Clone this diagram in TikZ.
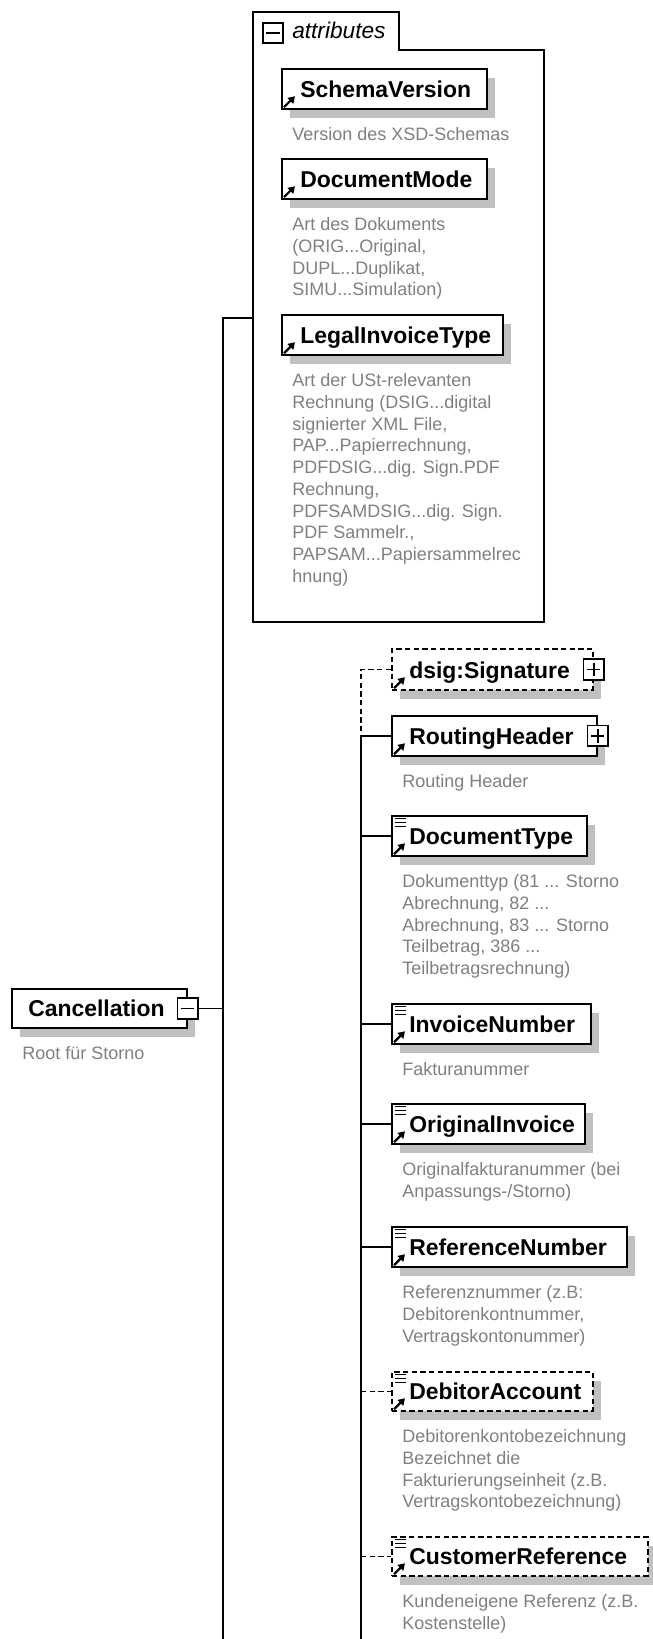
\documentclass[tikz,border=0pt]{standalone}
\usepackage{fontspec}
\setmainfont{Liberation Sans}
\usetikzlibrary{arrows.meta,shadows}
\definecolor{descgray}{RGB}{128,128,128}
\definecolor{shadowc}{RGB}{192,192,192}
\newcommand{\ebx}[6]{% name, style, L, T, R, B
  \node[#2, minimum width={(#5-#3)*0.75pt}, minimum height={(#6-#4)*0.75pt}] (#1) at (#3,#4) {};}
\newcommand{\refarrow}[1]{%
  \draw[line width=1.6pt,-{Triangle[length=5pt,width=6pt]}] ([shift={(3,-2.5)}]#1.south west) -- ([shift={(14,-13.5)}]#1.south west);}
\newcommand{\simpleicon}[1]{%
  \foreach \k in {3.5,7.5,11.5}{\draw[line width=0.9pt] ([shift={(4,\k)}]#1.north west) -- ([shift={(15,\k)}]#1.north west);}}
\newcommand{\plusbox}[1]{%
  \node[pmbox] (#1p) at (#1.east) {};
  \draw[line width=1.2pt] ([xshift=-5pt]#1p.center) -- ([xshift=5pt]#1p.center);
  \draw[line width=1.2pt] ([yshift=-5pt]#1p.center) -- ([yshift=5pt]#1p.center);}
\newcommand{\dlines}[1]{\begin{tabular}[t]{@{}l@{}}#1\end{tabular}}
\begin{document}
\begin{tikzpicture}[x=0.75pt,y=-0.75pt,
  ebox/.style={draw=black, fill=white, line width=1.3pt, rectangle, inner sep=0pt, anchor=north west,
    drop shadow={shadow xshift=6pt,shadow yshift=-6.75pt,fill=shadowc,opacity=1}},
  optbox/.style={ebox, dash pattern=on 4pt off 2.5pt},
  ename/.style={font=\fontsize{17.2}{20}\selectfont\bfseries, anchor=base west, inner sep=0pt},
  edesc/.style={font=\fontsize{13.5}{16.3}\selectfont, text=descgray, anchor=base west, inner sep=0pt},
  conn/.style={draw, line width=1.3pt},
  optconn/.style={conn, dash pattern=on 4pt off 2.5pt},
  pmbox/.style={draw, fill=white, line width=1.3pt, minimum size=15.5pt, inner sep=0pt, rectangle},
]
\useasboundingbox[fill=white] (0,0) rectangle (653,1639);

% ---------- attributes frame ----------
\draw[line width=1.3pt] (253,622) -- (253,12) -- (399,12) -- (399,50) -- (544,50) -- (544,622) -- cycle;
\node[pmbox] (attrm) at (273,33) {};
\draw[line width=1.2pt] ([xshift=-5pt]attrm.center) -- ([xshift=5pt]attrm.center);
\node[font=\fontsize{17}{20}\selectfont\itshape, anchor=base west, inner sep=0pt] (attrt) at (292,38.5) {attributes};

\ebx{sv}{ebox}{281}{68}{486}{108}
\node[ename] (svt) at ([shift={(19,-12)}]sv.south west) {SchemaVersion};
\refarrow{sv}
\node[edesc] (svd) at ([shift={(11,31)}]sv.south west) {\dlines{Version des XSD-Schemas}};

\ebx{dm}{ebox}{281}{158}{486}{198}
\node[ename] (dmt) at ([shift={(19,-12)}]dm.south west) {DocumentMode};
\refarrow{dm}
\node[edesc] (dmd) at ([shift={(11,31)}]dm.south west) {\dlines{Art des Dokuments\\(ORIG...Original,\\DUPL...Duplikat,\\SIMU...Simulation)}};

\ebx{lit}{ebox}{281}{314}{502}{354}
\node[ename] (litt) at ([shift={(19,-12)}]lit.south west) {LegalInvoiceType};
\refarrow{lit}
\node[edesc] (litd) at ([shift={(11,31)}]lit.south west) {\dlines{Art der USt-relevanten\\Rechnung (DSIG...digital\\signierter XML File,\\PAP...Papierrechnung,\\PDFDSIG...dig. Sign.PDF\\Rechnung,\\PDFSAMDSIG...dig. Sign.\\PDF Sammelr.,\\PAPSAM...Papiersammelrec\\hnung)}};

% ---------- root ----------
\ebx{canc}{ebox}{11}{988}{186}{1027}
\node[ename] (canct) at ([shift={(17,-12)}]canc.south west) {Cancellation};
\node[pmbox] (cancm) at (canc.east) {};
\draw[line width=1.2pt] ([xshift=-5pt]cancm.center) -- ([xshift=5pt]cancm.center);
\node[edesc] (cancd) at ([shift={(11,31)}]canc.south west) {\dlines{Root für Storno}};

% ---------- trunk ----------
\coordinate (tTop) at (223,318);
\coordinate (tBot) at (223,1639);
\coordinate (frameL) at (253,318);
\draw[conn] (frameL) -- (tTop) -- (tBot);
\draw[conn] (cancm.east) -- (cancm.east -| tTop);

% ---------- elements ----------
\ebx{dsig}{optbox}{391}{648}{592}{689}
\node[ename] (dsigt) at ([shift={(18,-12)}]dsig.south west) {dsig:Signature};
\refarrow{dsig}
\plusbox{dsig}

\ebx{rh}{ebox}{391}{715}{596}{755}
\node[ename] (rht) at ([shift={(18,-12)}]rh.south west) {RoutingHeader};
\refarrow{rh}
\plusbox{rh}
\node[edesc] (rhd) at ([shift={(11,31)}]rh.south west) {\dlines{Routing Header}};

\ebx{dt}{ebox}{391}{815}{586}{855}
\node[ename] (dtt) at ([shift={(18,-12)}]dt.south west) {DocumentType};
\refarrow{dt}\simpleicon{dt}
\node[edesc] (dtd) at ([shift={(11,31)}]dt.south west) {\dlines{Dokumenttyp (81 ... Storno\\Abrechnung, 82 ...\\Abrechnung, 83 ... Storno\\Teilbetrag, 386 ...\\Teilbetragsrechnung)}};

\ebx{inv}{ebox}{391}{1003}{590}{1043}
\node[ename] (invt) at ([shift={(18,-12)}]inv.south west) {InvoiceNumber};
\refarrow{inv}\simpleicon{inv}
\node[edesc] (invd) at ([shift={(11,31)}]inv.south west) {\dlines{Fakturanummer}};

\ebx{oi}{ebox}{391}{1103}{584}{1143}
\node[ename] (oit) at ([shift={(18,-12)}]oi.south west) {OriginalInvoice};
\refarrow{oi}\simpleicon{oi}
\node[edesc] (oid) at ([shift={(11,31)}]oi.south west) {\dlines{Originalfakturanummer (bei\\Anpassungs-/Storno)}};

\ebx{rn}{ebox}{391}{1226}{626}{1266}
\node[ename] (rnt) at ([shift={(18,-12)}]rn.south west) {ReferenceNumber};
\refarrow{rn}\simpleicon{rn}
\node[edesc] (rnd) at ([shift={(11,31)}]rn.south west) {\dlines{Referenznummer (z.B:\\Debitorenkontnummer,\\Vertragskontonummer)}};

\ebx{da}{optbox}{391}{1371}{592}{1410}
\node[ename] (dat) at ([shift={(18,-12)}]da.south west) {DebitorAccount};
\refarrow{da}\simpleicon{da}
\node[edesc] (dad) at ([shift={(11,31)}]da.south west) {\dlines{Debitorenkontobezeichnung\\Bezeichnet die\\Fakturierungseinheit (z.B.\\Vertragskontobezeichnung)}};

\ebx{cr}{optbox}{391}{1536}{647}{1575}
\node[ename] (crt) at ([shift={(18,-12)}]cr.south west) {CustomerReference};
\refarrow{cr}\simpleicon{cr}
\node[edesc] (crd) at ([shift={(11,31)}]cr.south west) {\dlines{Kundeneigene Referenz (z.B.\\Kostenstelle)}};

% ---------- sequence connectors ----------
\coordinate (sBot) at (361,1639);
\draw[optconn] (dsig.west) -- (dsig.west -| sBot) -- (rh.west -| sBot);
\draw[conn] (rh.west -| sBot) -- (sBot);
\draw[conn] (rh.west -| sBot) -- (rh.west);
\draw[conn] (dt.west -| sBot) -- (dt.west);
\draw[conn] (inv.west -| sBot) -- (inv.west);
\draw[conn] (oi.west -| sBot) -- (oi.west);
\draw[conn] (rn.west -| sBot) -- (rn.west);
\draw[optconn] (da.west -| sBot) -- (da.west);
\draw[optconn] (cr.west -| sBot) -- (cr.west);
\end{tikzpicture}
\end{document}
